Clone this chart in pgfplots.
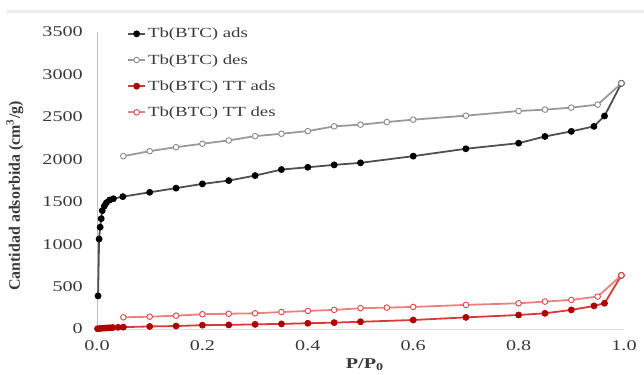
\documentclass[border=0pt]{standalone}
\usepackage{fontspec}
\setmainfont[FakeStretch=1.35]{Liberation Serif}
\newfontfamily\yfont{Liberation Serif}
\usepackage{pgfplots}
\pgfplotsset{compat=1.18}
\definecolor{txt}{HTML}{3A3A3A}
\definecolor{adsline}{HTML}{505050}
\definecolor{desline}{HTML}{9A9A9A}
\definecolor{desmark}{HTML}{8A8A8A}
\definecolor{rads}{HTML}{B00000}
\definecolor{radsline}{HTML}{D83A3A}
\definecolor{rdesline}{HTML}{EC8080}
\definecolor{rdesmark}{HTML}{D84848}
\begin{document}
\begin{tikzpicture}[x=1bp,y=1bp]
\useasboundingbox (0,0) rectangle (644,374);
\fill[black!8] (7,361) rectangle (644,364);
\begin{axis}[
  at={(97bp,45bp)}, anchor=south west,
  scale only axis, width=527bp, height=297bp,
  xmin=0, xmax=1, ymin=0, ymax=3500,
  clip=false,
  axis x line*=bottom, axis y line*=left,
  x axis line style={draw=black!12, -},
  y axis line style={draw=black!25, -},
  xtick={0,0.2,0.4,0.6,0.8,1.0},
  ytick={0,500,1000,1500,2000,2500,3000,3500},
  major tick length=0pt,
  scaled y ticks=false,
  /pgf/number format/assume math mode=true,
  tick label style={font=\fontsize{15}{15}\selectfont, text=txt},
  xticklabel style={anchor=north, inner sep=0pt, yshift=-11bp, /pgf/number format/fixed, /pgf/number format/fixed zerofill, /pgf/number format/precision=1},
  yticklabel style={anchor=east, inner sep=0pt, xshift=-14bp, /pgf/number format/fixed, /pgf/number format/1000 sep={}},
  xlabel={\bfseries P/P\textsubscript{0}},
  xlabel style={at={(axis description cs:0.508,0)}, anchor=center, yshift=-36bp, font=\fontsize{15}{15}\selectfont, text=txt},
  ylabel={\yfont\bfseries Cantidad adsorbida (cm\textsuperscript{3}/g)},
  ylabel style={at={(axis description cs:-0.156,0.448)}, anchor=center, font=\fontsize{16}{16}\selectfont, text=txt},
  legend style={at={(axis description cs:0.057,1.02)}, anchor=north west, draw=none, fill=none,
    font=\fontsize{14}{15}\selectfont, text=txt, row sep=11bp, inner sep=0pt, cells={anchor=west}},
]
\addplot[color=adsline, line width=1.8bp, mark=*, mark size=3bp, mark options={draw=black, fill=black, line width=0.8bp}] coordinates {
(0.002,390)(0.004,1060)(0.006,1200)(0.008,1300)(0.010,1395)(0.014,1450)(0.018,1490)(0.024,1520)(0.031,1535)(0.049,1560)(0.10,1611)(0.15,1660)(0.20,1710)(0.25,1749)(0.30,1808)(0.35,1879)(0.40,1906)(0.45,1934)(0.50,1958)(0.60,2037)(0.70,2124)(0.80,2190)(0.85,2269)(0.90,2329)(0.943,2388)(0.963,2510)(0.995,2895)
};
\addlegendentry{Tb(BTC) ads}
\addplot[color=desline, line width=1.8bp, mark=*, mark size=2.8bp, mark options={draw=desmark, fill=white, line width=0.9bp}] coordinates {
(0.995,2895)(0.95,2644)(0.90,2609)(0.85,2585)(0.80,2569)(0.70,2514)(0.60,2467)(0.55,2439)(0.50,2408)(0.45,2388)(0.40,2332)(0.35,2301)(0.30,2273)(0.25,2222)(0.20,2183)(0.15,2143)(0.10,2096)(0.05,2037)
};
\addlegendentry{Tb(BTC) des}
\addplot[color=radsline, line width=1.8bp, mark=*, mark size=3bp, mark options={draw=rads, fill=rads, line width=0.8bp}] coordinates {
(0.001,3)(0.005,6)(0.01,9)(0.015,11)(0.02,13)(0.025,15)(0.03,17)(0.04,20)(0.05,22)(0.10,30)(0.15,35)(0.20,45)(0.25,48)(0.30,55)(0.35,60)(0.40,68)(0.45,75)(0.50,85)(0.60,106)(0.70,137)(0.80,165)(0.85,185)(0.90,225)(0.943,272)(0.963,303)(0.995,632)
};
\addlegendentry{Tb(BTC) TT ads}
\addplot[color=rdesline, line width=1.8bp, mark=*, mark size=2.8bp, mark options={draw=rdesmark, fill=white, line width=0.9bp}] coordinates {
(0.995,632)(0.95,382)(0.90,343)(0.85,323)(0.80,303)(0.70,284)(0.60,260)(0.55,252)(0.50,245)(0.45,225)(0.40,213)(0.35,200)(0.30,185)(0.25,180)(0.20,174)(0.15,157)(0.10,145)(0.05,138)
};
\addlegendentry{Tb(BTC) TT des}
\end{axis}
\end{tikzpicture}
\end{document}
